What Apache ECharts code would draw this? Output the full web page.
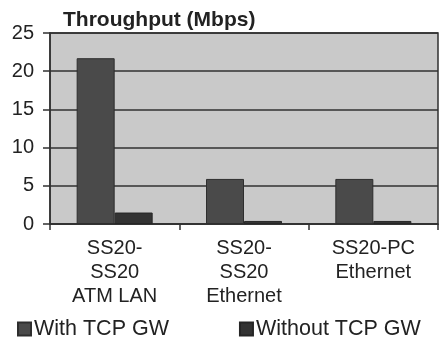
<!DOCTYPE html>
<html>
<head>
<meta charset="utf-8">
<script src="https://cdn.jsdelivr.net/npm/echarts@6/dist/echarts.min.js"></script>
<style>
  html, body { margin: 0; padding: 0; background: #ffffff; }
  #chart { width: 439px; height: 341px; }
</style>
</head>
<body>
<div id="chart"></div>
<script>
// Throughput per network configuration, in Mbps
const categories = ['SS20-\nSS20\nATM LAN', 'SS20-\nSS20\nEthernet', 'SS20-PC\nEthernet'];
const withGateway = [21.7, 5.9, 5.9];
const withoutGateway = [1.5, 0.4, 0.4];
const yTicks = [0, 5, 10, 15, 20, 25];

const font = 'Liberation Sans, Arial, sans-serif';
const ink = '#222222';

const chart = echarts.init(document.getElementById('chart'), null, { renderer: 'canvas' });

chart.setOption({
  animation: false,
  title: {
    text: 'Throughput (Mbps)',
    left: 58,
    top: 5,
    textStyle: { fontFamily: font, fontSize: 21, fontWeight: 'bold', color: ink }
  },
  legend: {
    left: 17,
    top: 318,
    padding: 0,
    itemWidth: 13,
    itemHeight: 13,
    itemGap: 70,
    icon: 'rect',
    textStyle: { fontFamily: font, fontSize: 21.5, color: ink, padding: [0, 0, 0, -2] },
    data: ['With TCP GW', 'Without TCP GW']
  },
  grid: {
    left: 50,
    right: 1,
    top: 33,
    bottom: 117,
    show: true,
    backgroundColor: '#c9c9c9',
    borderColor: '#303030',
    borderWidth: 1.5
  },
  xAxis: {
    type: 'category',
    data: categories,
    axisLine: { lineStyle: { color: '#303030', width: 1.5 } },
    axisTick: { show: true, length: 6, lineStyle: { color: '#303030', width: 1.5 } },
    axisLabel: {
      fontFamily: font,
      fontSize: 20,
      color: ink,
      lineHeight: 24,
      margin: 12
    }
  },
  yAxis: {
    type: 'value',
    min: yTicks[0],
    max: yTicks[yTicks.length - 1],
    interval: 5,
    axisLine: { show: true, lineStyle: { color: '#303030', width: 1.5 } },
    axisTick: { show: true, length: 7, lineStyle: { color: '#303030', width: 1.5 } },
    axisLabel: { fontFamily: font, fontSize: 20, color: ink, margin: 16 },
    splitLine: { show: true, lineStyle: { color: '#303030', width: 1.5 } }
  },
  series: [
    {
      name: 'With TCP GW',
      type: 'bar',
      data: withGateway,
      barWidth: 38,
      barGap: 0,
      itemStyle: { color: '#4a4a4a', borderColor: '#2e2e2e', borderWidth: 1 }
    },
    {
      name: 'Without TCP GW',
      type: 'bar',
      data: withoutGateway,
      barWidth: 38,
      barGap: 0,
      itemStyle: { color: '#333333', borderColor: '#262626', borderWidth: 1 }
    }
  ]
});
</script>
</body>
</html>
